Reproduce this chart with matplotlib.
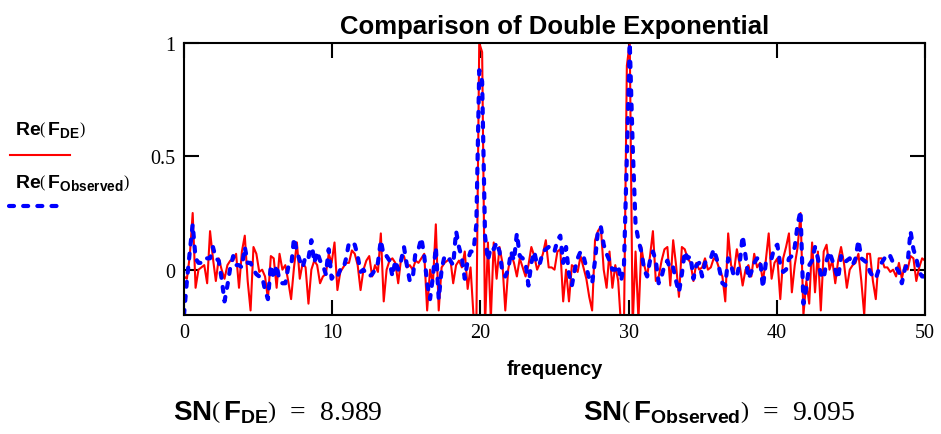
import numpy as np
import matplotlib
matplotlib.use("Agg")
import matplotlib.pyplot as plt
from matplotlib.lines import Line2D

plt.rcParams['mathtext.fontset'] = 'custom'
plt.rcParams['mathtext.rm'] = 'Liberation Serif'
plt.rcParams['mathtext.it'] = 'Liberation Serif:italic'
plt.rcParams['mathtext.bf'] = 'Liberation Sans:bold'

# frequency grid, 257 bins from 0 to 50
freq = np.linspace(0, 50, 257)

# Re(F_DE)
re_de = [
    # 0 - 99
    -0.03, -0.04, 0.06, 0.25, -0.08, 0.00, 0.01, 0.02, -0.06, 0.17,
    0.05, -0.05, 0.05, 0.00, -0.04, 0.02, 0.04, 0.04, 0.07, -0.08,
    0.08, 0.15, -0.05, -0.18, 0.10, 0.07, -0.01, 0.00, -0.03, -0.13,
    0.06, 0.05, -0.08, 0.07, 0.00, 0.02, -0.05, -0.13, 0.01, 0.12,
    -0.04, 0.03, 0.01, -0.15, 0.00, 0.04, 0.02, -0.06, -0.03, -0.02,
    0.07, 0.03, 0.12, -0.09, -0.01, 0.01, 0.03, 0.03, 0.085, 0.07,
    0.02, -0.09, 0.00, 0.04, 0.06, -0.03, 0.02, -0.01, 0.16, -0.14,
    0.00, 0.04, 0.05, 0.03, -0.06, 0.05, 0.06, 0.01, 0.02, 0.00,
    0.04, 0.03, 0.05, 0.07, -0.18, 0.00, -0.06, 0.20, -0.18, 0.01,
    0.03, 0.04, 0.05, -0.06, 0.02, 0.04, 0.01, 0.08, -0.085, 0.01,
    # 100 - 105 (peak at 20)
    -0.20, -0.25, 1.00, 0.96, -0.25, 0.12,
    # 106 - 151
    -0.22, 0.12, -0.04, 0.10, 0.03, -0.18, 0.00, 0.07, 0.03, -0.03,
    0.05, 0.01, -0.03, 0.02, 0.10, 0.06, 0.00, 0.03, 0.07, 0.13,
    0.01, 0.01, 0.00, 0.08, 0.09, -0.14, 0.00, -0.14, 0.02, 0.01,
    -0.01, 0.06, 0.01, -0.04, -0.12, -0.18, 0.13, 0.17, 0.19, 0.00,
    -0.08, 0.08, -0.08, 0.02, -0.05, -0.25,
    # 152 - 157 (peak at 30)
    -0.25, 0.90, 1.00, -0.25, 0.08, -0.22,
    # 158 - 256
    0.10, 0.02, -0.03, 0.06, 0.17, -0.05, -0.03, 0.04, 0.09, 0.10,
    -0.07, 0.13, 0.02, -0.12,
    0.10, 0.09, 0.05, 0.03, -0.05, 0.03, 0.00, 0.01, 0.05, 0.00,
    0.01, 0.05, 0.04, 0.00, -0.03, -0.14, 0.16, 0.02, -0.01, 0.09,
    0.02, -0.07, 0.00, 0.02, -0.03, 0.07, 0.01, 0.03, -0.05, 0.04,
    0.16, -0.04, 0.03, 0.05, -0.13, 0.05, 0.10, 0.16, -0.10, 0.02,
    0.10, 0.25,
    -0.20, -0.05, -0.15, 0.12, -0.10, 0.08, -0.18, 0.08, 0.11, 0.00,
    0.04, -0.06, 0.04, 0.10, 0.03, -0.08, 0.00, 0.02, 0.03, 0.07,
    -0.05, -0.20, 0.07, 0.07, -0.05, -0.13, 0.05, 0.05, 0.01, 0.01,
    -0.01, 0.00, -0.03, 0.03, -0.04, 0.02, 0.00, 0.06, 0.05, -0.05,
    0.01, 0.05, 0.04,
]

# Re(F_Observed)
re_obs = [
    # 0 - 99
    -0.20, -0.05, 0.08, 0.20, 0.05, 0.03, 0.03, 0.05, 0.05, 0.05,
    0.10, 0.05, 0.04, -0.04, -0.14, -0.07, 0.01, 0.06, 0.02, 0.02,
    0.01, 0.10, 0.03, 0.03, 0.00, -0.02, -0.03, -0.03, -0.09, -0.13,
    0.02, -0.04, 0.02, -0.05, -0.06, -0.06, 0.01, 0.01, 0.14, 0.08,
    0.04, 0.01, 0.06, 0.05, 0.13, 0.03, 0.08, 0.04, 0.02, -0.02,
    0.09, -0.04, -0.02, -0.03, 0.00, 0.00, 0.05, 0.12, 0.12, 0.11,
    0.06, -0.01, 0.00, -0.02, -0.03, -0.02, 0.00, 0.03, 0.13, 0.06,
    0.06, 0.04, -0.03, 0.04, 0.00, 0.04, 0.10, 0.02, -0.05, -0.04,
    0.08, 0.09, 0.14, 0.06, -0.06, -0.13, -0.03, 0.10, -0.13, 0.00,
    0.06, 0.06, 0.04, 0.02, 0.17, 0.10, 0.05, -0.04, 0.04, 0.08,
    # 100 - 105
    0.08, 0.20, 0.88, 0.83, 0.15, 0.04,
    # 106 - 151
    0.10, 0.09, 0.12, 0.08, -0.01, -0.03, 0.00, 0.08, 0.04, 0.16,
    0.06, 0.05, 0.03, -0.07, 0.03, 0.08, 0.02, 0.03, 0.08, 0.09,
    0.10, 0.08, 0.08, 0.13, 0.15, 0.03, 0.10, -0.02, -0.07, 0.00,
    0.05, 0.08, 0.06, 0.01, -0.04, -0.06, 0.04, 0.17, 0.19, 0.11,
    0.07, 0.04, 0.00, 0.00, 0.02, -0.05,
    # 152 - 157
    0.02, 0.50, 1.00, 0.55, 0.20, 0.13,
    # 158 - 256
    0.08, 0.00, -0.03, 0.04, 0.08, 0.04, -0.06, -0.03, 0.02, 0.04,
    0.00, 0.01, -0.05, -0.10,
    -0.02, 0.08, 0.05, 0.06, -0.04, 0.02, 0.03, -0.03, 0.03, 0.05,
    0.05, 0.09, 0.05, 0.00, -0.06, -0.07, 0.05, 0.02, -0.03, -0.03,
    0.03, 0.15, 0.06, -0.04, -0.01, 0.03, 0.05, 0.05, -0.08, 0.03,
    0.05, 0.05, 0.10, 0.11, 0.02, -0.01, 0.00, 0.05, 0.06, 0.10,
    0.20, 0.26,
    -0.15, -0.08, 0.02, 0.04, 0.10, 0.05, -0.02, -0.04, 0.04, 0.08,
    0.04, 0.00, -0.04, 0.06, 0.03, 0.04, 0.05, 0.02, 0.05, 0.13,
    0.05, 0.04, 0.03, -0.01, -0.03, -0.04, 0.00, 0.03, 0.05, 0.04,
    0.06, 0.03, 0.01, -0.01, -0.06, 0.00, 0.03, 0.17, 0.09, 0.05,
    -0.01, -0.03, -0.03,
]

assert len(re_de) == 257, len(re_de)
assert len(re_obs) == 257, len(re_obs)

sn_de = 8.989
sn_obs = 9.095

W, H = 941, 435
fig = plt.figure(figsize=(W / 100, H / 100), dpi=100)
ax = fig.add_axes([184 / W, 1 - 316 / H, (925 - 184) / W, (316 - 44) / H])

ax.plot(freq, re_de, color='#ff0000', lw=1.5)
blue, = ax.plot(freq, re_obs, color='#0000ff', lw=3.0,
                dash_capstyle='round')
blue.set_dashes([1.2, 2.2])

ax.set_xlim(0, 50)
ax.set_ylim(-0.2, 1.0)
ax.set_xticks([0, 10, 20, 30, 40, 50])
ax.set_yticks([0, 0.5, 1])
ax.set_yticklabels(['0', '0.5', '1'])
ax.tick_params(direction='in', length=11, width=1.5, top=True, right=True,
               labelsize=14.5, pad=6)
for lab in ax.get_xticklabels() + ax.get_yticklabels():
    lab.set_family('Liberation Serif')
for s in ax.spines.values():
    s.set_linewidth(1.5)

ax.set_title('Comparison of Double Exponential', family='Liberation Sans',
             fontweight='bold', fontsize=18.5, pad=7)
ax.set_xlabel('frequency', family='Liberation Sans', fontweight='bold',
              fontsize=14.5, labelpad=12)

# legend at the left, Mathcad style
fig.text(15 / W, 1 - 130 / H,
         r'$\mathbf{Re}\left(\,\mathbf{F}_{\mathbf{DE}}\right)$',
         fontsize=14, va='center', ha='left')
fig.add_artist(Line2D([10 / W, 70 / W], [1 - 156 / H] * 2, color='#ff0000', lw=1.5))
fig.text(15 / W, 1 - 183 / H,
         r'$\mathbf{Re}\left(\,\mathbf{F}_{\mathbf{Observed}}\right)$',
         fontsize=14, va='center', ha='left')
bl = Line2D([9 / W, 65 / W], [1 - 207 / H] * 2, color='#0000ff', lw=3.0,
            dash_capstyle='round')
bl.set_dashes([1.2, 2.2])
fig.add_artist(bl)

# signal to noise readouts
fig.text(173 / W, 1 - 413 / H,
         r'$\mathbf{SN}\left(\,\mathbf{F}_{\mathbf{DE}}\right)$  =  %.3f' % sn_de,
         fontsize=20, va='center', ha='left', family='Liberation Serif')
fig.text(583 / W, 1 - 413 / H,
         r'$\mathbf{SN}\left(\,\mathbf{F}_{\mathbf{Observed}}\right)$  =  %.3f' % sn_obs,
         fontsize=20, va='center', ha='left', family='Liberation Serif')

fig.savefig('out.png', dpi=100)
